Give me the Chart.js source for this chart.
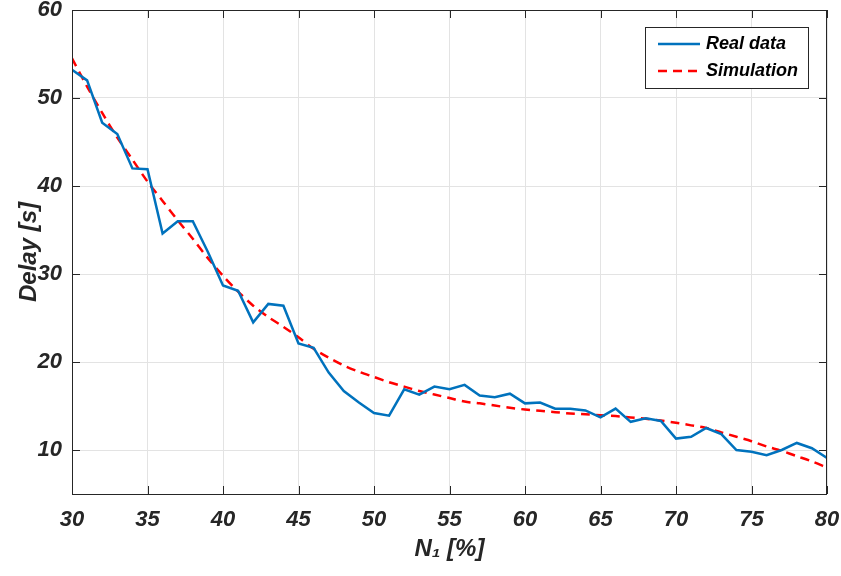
<!DOCTYPE html>
<html>
<head>
<meta charset="utf-8">
<script src="https://cdn.jsdelivr.net/npm/chart.js@4.4.1/dist/chart.umd.min.js"></script>
<style>
  html, body { margin: 0; padding: 0; background: #fff; }
  #wrap { width: 841px; height: 576px; }
</style>
</head>
<body>
<div id="wrap"><canvas id="delayChart" width="841" height="576"></canvas></div>
<script>
// N1 [%] values, one per integer step
const nPercent = [30,31,32,33,34,35,36,37,38,39,40,41,42,43,44,45,46,47,48,49,50,
                  51,52,53,54,55,56,57,58,59,60,61,62,63,64,65,66,67,68,69,70,
                  71,72,73,74,75,76,77,78,79,80];

// measured delay [s]
const realDelay = [53.2,52.0,47.2,45.9,42.0,41.9,34.6,36.0,36.0,32.5,28.7,
                   28.1,24.5,26.6,26.4,22.1,21.6,18.8,16.7,15.4,14.2,
                   13.9,16.9,16.3,17.2,16.9,17.4,16.2,16.0,16.4,15.3,
                   15.4,14.7,14.7,14.5,13.7,14.7,13.2,13.6,13.3,11.3,
                   11.5,12.5,11.8,10.0,9.8,9.4,10.0,10.8,10.2,9.1];

// simulated delay [s]
const simDelay = [54.5,51.3,48.3,45.5,43.0,40.5,38.3,36.1,34.0,31.8,29.8,
                  28.0,26.4,25.1,24.0,22.8,21.5,20.5,19.6,18.9,18.3,
                  17.7,17.2,16.7,16.3,15.9,15.5,15.3,15.05,14.8,14.6,
                  14.45,14.3,14.15,14.05,13.95,13.85,13.7,13.55,13.35,13.1,
                  12.8,12.5,12.0,11.5,11.0,10.4,9.9,9.3,8.7,8.0];

const xTicks = [30,35,40,45,50,55,60,65,70,75,80];
const yTicks = [10,20,30,40,50,60];

const seriesNames = ['Real data', 'Simulation'];

const FONT = "'Liberation Sans Narrow', 'Liberation Sans', Arial, sans-serif";
const AXIS_COLOR = '#262626';

function toPoints(ys) {
	return nPercent.map((x, i) => ({ x: x, y: ys[i] }));
}

// MATLAB-like frame: box with inward ticks on all four sides + legend box
const framePlugin = {
	id: 'frame',
	afterDraw(chart) {
		const ctx = chart.ctx;
		const a = chart.chartArea;
		const xs = chart.scales.x, ys = chart.scales.y;
		ctx.save();
		ctx.strokeStyle = AXIS_COLOR;
		ctx.lineWidth = 1;
		ctx.strokeRect(a.left + 0.5, a.top + 0.5, a.right - a.left - 1, a.bottom - a.top);
		const tl = 8;
		ctx.beginPath();
		xTicks.forEach(v => {
			const px = Math.round(xs.getPixelForValue(v)) + 0.5;
			ctx.moveTo(px, a.bottom); ctx.lineTo(px, a.bottom - tl);
			ctx.moveTo(px, a.top); ctx.lineTo(px, a.top + tl);
		});
		yTicks.forEach(v => {
			const py = Math.round(ys.getPixelForValue(v)) + 0.5;
			ctx.moveTo(a.left, py); ctx.lineTo(a.left + tl, py);
			ctx.moveTo(a.right, py); ctx.lineTo(a.right - tl, py);
		});
		ctx.stroke();

		// legend
		const lx = 645, ly = 27, lw = 163, lh = 61;
		ctx.fillStyle = '#fff';
		ctx.fillRect(lx, ly, lw, lh);
		ctx.strokeStyle = AXIS_COLOR;
		ctx.strokeRect(lx + 0.5, ly + 0.5, lw, lh);
		const ds = chart.data.datasets;
		ctx.font = 'italic bold 18px ' + FONT;
		ctx.textBaseline = 'middle';
		ctx.textAlign = 'left';
		[44, 71].forEach((yy, i) => {
			ctx.beginPath();
			ctx.strokeStyle = ds[i].borderColor;
			ctx.lineWidth = 2.5;
			ctx.setLineDash(ds[i].borderDash || []);
			ctx.moveTo(658, yy); ctx.lineTo(700, yy);
			ctx.stroke();
			ctx.setLineDash([]);
			ctx.fillStyle = '#000';
			ctx.fillText(seriesNames[i], 706, yy);
		});
		ctx.restore();
	}
};

const data = {
	datasets: [
		{
			label: seriesNames[0],
			data: toPoints(realDelay),
			borderColor: '#0072BD',
			borderWidth: 2.5,
			pointRadius: 0,
			tension: 0,
			fill: false
		},
		{
			label: seriesNames[1],
			data: toPoints(simDelay),
			borderColor: '#FF0000',
			borderWidth: 2.5,
			borderDash: [9, 6],
			pointRadius: 0,
			tension: 0.3,
			fill: false
		}
	]
};

const config = {
	type: 'line',
	data: data,
	options: {
		responsive: false,
		animation: false,
		layout: { padding: { top: 10, right: 14, left: 0, bottom: 0 } },
		plugins: {
			legend: { display: false },
			tooltip: { enabled: false }
		},
		scales: {
			x: {
				type: 'linear',
				min: 30,
				max: 80,
				afterFit: s => { s.height = 82; s.paddingLeft = 0; s.paddingRight = 0; },
				afterBuildTicks: s => { s.ticks = xTicks.map(v => ({ value: v })); },
				border: { display: false },
				grid: { color: '#e3e3e3', drawTicks: false },
				ticks: {
					padding: 13,
					color: AXIS_COLOR,
					maxRotation: 0,
					font: { family: FONT, size: 22, style: 'italic', weight: 'bold' }
				},
				title: {
					display: true,
					text: 'N\u2081 [%]',
					color: AXIS_COLOR,
					padding: { top: 0, bottom: 12 },
					font: { family: FONT, size: 24, style: 'italic', weight: 'bold' }
				}
			},
			y: {
				type: 'linear',
				min: 5,
				max: 60,
				afterFit: s => { s.width = 72; s.paddingTop = 0; s.paddingBottom = 0; },
				afterBuildTicks: s => { s.ticks = yTicks.map(v => ({ value: v })); },
				border: { display: false },
				grid: { color: '#e3e3e3', drawTicks: false },
				ticks: {
					padding: 10,
					color: AXIS_COLOR,
					font: { family: FONT, size: 22, style: 'italic', weight: 'bold' }
				},
				title: {
					display: true,
					text: 'Delay [s]',
					color: AXIS_COLOR,
					padding: { top: 15, bottom: 0 },
					font: { family: FONT, size: 24, style: 'italic', weight: 'bold' }
				}
			}
		}
	},
	plugins: [framePlugin]
};

const myChart = new Chart(
	document.getElementById('delayChart'),
	config
);
</script>
</body>
</html>
